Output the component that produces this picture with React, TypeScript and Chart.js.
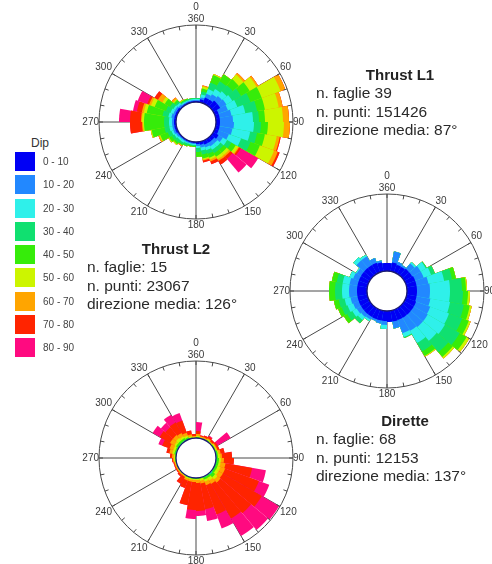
import React, { useEffect, useRef } from 'react';
import { Chart, registerables } from 'chart.js';

Chart.register(...registerables);

// 10° direction bins (clockwise from north)
const BINS = [
  '0-10', '10-20', '20-30', '30-40', '40-50', '50-60', '60-70', '70-80', '80-90',
  '90-100', '100-110', '110-120', '120-130', '130-140', '140-150', '150-160', '160-170', '170-180',
  '180-190', '190-200', '200-210', '210-220', '220-230', '230-240', '240-250', '250-260', '260-270',
  '270-280', '280-290', '290-300', '300-310', '310-320', '320-330', '330-340', '340-350', '350-360',
];

const SPOKE_LABELS: (string | string[])[] = [
  ['0', '360'], '30', '60', '90', '120', '150', '180', '210', '240', '270', '300', '330',
];

const DIP_CLASSES = ['0 - 10', '10 - 20', '20 - 30', '30 - 40', '40 - 50', '50 - 60', '60 - 70', '70 - 80', '80 - 90'];
const DIP_COLORS = ['#0000f5', '#2288ff', '#2ff0ea', '#10e070', '#36ec0a', '#ccf500', '#ffa500', '#ff2400', '#ff0a80'];

// radial value range: 0 sits on the central hole
const R_MIN = -20;
const R_MAX = 77;

// ---- Thrust L1 (frequency per dip class, per direction bin)
const L1_0_10 = [1, 3, 6, 6, 8, 8, 4, 4, 4, 4, 4, 4, 6, 4, 4, 4, 3, 2, 1, 1, 1, 1, 1, 1, 2, 2, 2, 2, 2, 2, 2, 1, 1, 1, 1, 1];
const L1_10_20 = [1, 2, 4, 6, 6, 7, 10, 12, 13, 14, 13, 11, 5, 4, 4, 3, 3, 2, 1, 1, 1, 1, 1, 2, 2, 2, 2, 2, 3, 2, 2, 2, 1, 1, 1, 1];
const L1_20_30 = [1, 3, 5, 6, 6, 7, 10, 14, 20, 20, 18, 13, 5, 4, 4, 3, 3, 2, 1, 1, 1, 2, 2, 2, 2, 3, 3, 3, 3, 3, 2, 2, 1, 1, 1, 1];
const L1_30_40 = [1, 3, 7, 9, 8, 10, 14, 12, 6, 7, 7, 10, 5, 4, 4, 4, 4, 4, 1, 1, 2, 2, 3, 3, 4, 5, 5, 5, 6, 5, 4, 2, 1, 1, 1, 1];
const L1_40_50 = [0, 3, 8, 8, 8, 10, 12, 8, 6, 7, 8, 10, 5, 4, 4, 4, 4, 5, 1, 1, 1, 1, 2, 3, 8, 13, 20, 20, 16, 12, 6, 2, 1, 1, 0, 0];
const L1_50_60 = [0, 2, 1, 0, 6, 8, 20, 14, 18, 16, 12, 15, 3, 3, 3, 2, 1, 0, 0, 0, 0, 0, 1, 1, 1, 1, 1, 2, 3, 4, 3, 1, 1, 0, 0, 0];
const L1_60_70 = [0, 1, 0, 0, 2, 2, 5, 4, 6, 6, 3, 4, 1, 2, 2, 2, 1, 0, 0, 0, 0, 1, 0, 0, 1, 0, 1, 1, 2, 2, 5, 2, 0, 0, 0, 0];
const L1_70_80 = [0, 0, 0, 0, 0, 0, 0, 0, 0, 0, 1, 2, 2, 3, 4, 3, 2, 0, 0, 0, 0, 0, 0, 0, 0, 0, 12, 11, 5, 2, 4, 0, 0, 0, 0, 0];
const L1_80_90 = [0, 0, 0, 0, 0, 0, 0, 0, 0, 0, 0, 0, 20, 18, 0, 0, 0, 0, 0, 0, 0, 0, 0, 0, 0, 0, 0, 11, 4, 10, 0, 0, 0, 0, 0, 0];

// ---- Thrust L2
const L2_0_10 = [8, 9, 8, 8, 9, 9, 10, 10, 10, 10, 10, 11, 11, 11, 11, 11, 11, 11, 10, 10, 10, 10, 10, 10, 10, 10, 10, 10, 10, 10, 10, 10, 10, 10, 9, 8];
const L2_10_20 = [0, 11, 3, 2, 7, 10, 9, 12, 13, 13, 14, 15, 16, 16, 15, 14, 7, 0, 4, 3, 2, 3, 4, 5, 6, 7, 8, 8, 8, 6, 5, 10, 10, 5, 2, 0];
const L2_20_30 = [0, 0, 0, 0, 2, 6, 8, 16, 20, 20, 20, 20, 20, 18, 14, 4, 0, 0, 4, 0, 0, 2, 4, 5, 6, 6, 7, 7, 7, 4, 1, 4, 2, 0, 0, 0];
const L2_30_40 = [0, 0, 0, 0, 0, 1, 4, 8, 12, 13, 14, 14, 17, 15, 10, 1, 0, 0, 0, 0, 0, 0, 4, 6, 6, 6, 7, 7, 6, 0, 0, 0, 0, 0, 0, 0];
const L2_40_50 = [0, 0, 0, 0, 0, 0, 0, 4, 4, 5, 6, 7, 8, 6, 5, 0, 0, 0, 0, 0, 0, 0, 0, 4, 4, 5, 6, 6, 5, 0, 0, 0, 0, 0, 0, 0];
const L2_50_60 = [0, 0, 0, 0, 0, 0, 0, 0, 1, 2, 2, 2, 3, 2, 1, 0, 0, 0, 0, 0, 0, 0, 0, 0, 0, 0, 0, 0, 0, 0, 0, 0, 0, 0, 0, 0];
const L2_60_70 = [0, 0, 0, 0, 0, 0, 0, 0, 0, 0, 0, 0, 0, 0, 0, 0, 0, 0, 0, 0, 0, 0, 0, 0, 0, 0, 0, 0, 0, 0, 0, 0, 0, 0, 0, 0];
const L2_70_80 = [0, 0, 0, 0, 0, 0, 0, 0, 0, 0, 0, 0, 0, 0, 0, 0, 0, 0, 0, 0, 0, 0, 0, 0, 0, 0, 0, 0, 0, 0, 0, 0, 0, 0, 0, 0];
const L2_80_90 = [0, 0, 0, 0, 0, 0, 0, 0, 0, 0, 0, 0, 0, 0, 0, 0, 0, 0, 0, 0, 0, 0, 0, 0, 0, 0, 0, 0, 0, 0, 0, 0, 0, 0, 0, 0];

// ---- Dirette
const D_0_10 = [0, 0, 0, 0, 0, 0, 0, 0, 0, 0, 0, 0, 0, 0, 0, 0, 0, 0, 0, 0, 0, 0, 0, 0, 0, 0, 0, 0, 0, 0, 0, 0, 0, 0, 0, 0];
const D_10_20 = [0, 0, 0, 0, 0, 0, 0, 0, 0, 0, 0, 0, 0, 0, 0, 0, 0, 0, 0, 0, 0, 0, 0, 0, 0, 0, 0, 0, 0, 0, 0, 0, 0, 0, 0, 0];
const D_20_30 = [0, 0, 0, 0, 0, 0, 0, 0, 0, 0, 0, 0, 0, 1, 0, 0, 0, 0, 0, 0, 0, 0, 0, 0, 0, 0, 0, 0, 0, 0, 0, 0, 0, 0, 0, 0];
const D_30_40 = [0, 0, 0, 0, 0, 0, 0, 1, 1, 1, 1, 1, 1, 1, 1, 1, 0, 0, 0, 0, 0, 0, 0, 0, 0, 0, 0, 0, 1, 1, 1, 1, 1, 1, 0, 0];
const D_40_50 = [1, 0, 0, 1, 0, 1, 1, 1, 1, 2, 2, 2, 2, 3, 2, 2, 1, 1, 1, 1, 1, 0, 0, 0, 0, 0, 1, 1, 1, 1, 2, 2, 2, 1, 1, 0];
const D_50_60 = [1, 1, 1, 1, 1, 1, 1, 1, 2, 2, 2, 3, 3, 3, 3, 2, 2, 1, 1, 1, 1, 1, 1, 1, 1, 1, 1, 1, 2, 2, 2, 3, 2, 2, 1, 1];
const D_60_70 = [2, 1, 1, 1, 1, 1, 1, 2, 2, 3, 5, 5, 5, 4, 4, 4, 3, 3, 2, 2, 2, 1, 1, 1, 1, 1, 1, 2, 3, 4, 5, 4, 4, 3, 2, 1];
const D_70_80 = [3, 1, 2, 2, 2, 2, 2, 4, 10, 10, 27, 36, 45, 40, 40, 31, 26, 28, 28, 24, 8, 8, 2, 1, 1, 1, 1, 2, 3, 8, 12, 10, 12, 13, 4, 2];
const D_80_90 = [9, 0, 0, 1, 0, 15, 0, 0, 0, 0, 14, 11, 20, 22, 20, 15, 12, 5, 9, 0, 0, 0, 0, 0, 0, 0, 0, 0, 0, 4, 8, 6, 9, 8, 0, 0];

const L1_SERIES = [L1_0_10, L1_10_20, L1_20_30, L1_30_40, L1_40_50, L1_50_60, L1_60_70, L1_70_80, L1_80_90];
const L2_SERIES = [L2_0_10, L2_10_20, L2_20_30, L2_30_40, L2_40_50, L2_50_60, L2_60_70, L2_70_80, L2_80_90];
const D_SERIES = [D_0_10, D_10_20, D_20_30, D_30_40, D_40_50, D_50_60, D_60_70, D_70_80, D_80_90];

const FONT = '"Liberation Sans", Arial, sans-serif';

const rosePlugin = {
  id: 'roseHole',
  afterDraw(chart: any) {
    const s = chart.scales.r;
    const ctx = chart.ctx;
    const cx = s.xCenter;
    const cy = s.yCenter;
    const R = s.drawingArea;
    const rh = s.getDistanceFromCenterForValue(0);
    ctx.save();
    ctx.strokeStyle = '#4a4a4a';
    ctx.lineWidth = 1;
    for (let i = 0; i < BINS.length; i++) {
      const a = s.getIndexAngle(i) - Math.PI / 2;
      ctx.beginPath();
      ctx.moveTo(cx + Math.cos(a) * (R - 4), cy + Math.sin(a) * (R - 4));
      ctx.lineTo(cx + Math.cos(a) * R, cy + Math.sin(a) * R);
      ctx.stroke();
    }
    ctx.beginPath();
    ctx.arc(cx, cy, rh, 0, Math.PI * 2);
    ctx.fillStyle = '#ffffff';
    ctx.fill();
    ctx.strokeStyle = '#1c1c70';
    ctx.lineWidth = 1.3;
    ctx.stroke();
    ctx.restore();
  },
};

function RoseChart({ series, left, top }: { series: number[][]; left: number; top: number }) {
  const ref = useRef<HTMLCanvasElement | null>(null);
  useEffect(() => {
    let run = BINS.map(() => 0);
    const datasets = series.map((arr, k) => {
      run = run.map((v, i) => v + arr[i]);
      return {
        label: DIP_CLASSES[k],
        data: run.slice(),
        backgroundColor: DIP_COLORS[k],
        borderWidth: 0,
      };
    });
    const chart = new Chart(ref.current as HTMLCanvasElement, {
      type: 'polarArea',
      data: { labels: BINS, datasets },
      options: {
        responsive: false,
        animation: false,
        layout: { padding: 0 },
        plugins: { legend: { display: false }, tooltip: { enabled: false } },
        scales: {
          r: {
            min: R_MIN,
            max: R_MAX,
            startAngle: 0,
            ticks: { display: false, stepSize: R_MAX - R_MIN, z: 1 },
            grid: {
              circular: true,
              lineWidth: 1,
              color: (c: any) => (c.tick && Math.abs(c.tick.value - R_MAX) < 1e-6 ? '#4a4a4a' : 'rgba(0,0,0,0)'),
            },
            angleLines: {
              display: true,
              color: '#4a4a4a',
              lineWidth: (c: any) => (c.index % 3 === 0 ? 1 : 0),
            },
            pointLabels: {
              display: true,
              padding: 0,
              color: '#3a3a3a',
              font: { family: FONT, size: 10 },
              callback: (_l: string, i: number) => (i % 3 === 0 ? SPOKE_LABELS[i / 3] : ''),
            },
          },
        } as any,
      },
      plugins: [rosePlugin],
    } as any);
    return () => chart.destroy();
  }, [series]);
  return (
    <canvas
      ref={ref}
      width={242}
      height={242}
      style={{ position: 'absolute', left, top, width: 242, height: 242 }}
    />
  );
}

function InfoBlock({ title, lines, left, titleCenter, top }: { title: string; lines: string[]; left: number; titleCenter: number; top: number }) {
  return (
    <>
      <div
        style={{
          position: 'absolute', left: titleCenter - 100, top, width: 200, textAlign: 'center',
          fontFamily: FONT, fontWeight: 'bold', fontSize: 15, lineHeight: '18px', color: '#222',
        }}
      >
        {title}
      </div>
      <div
        style={{
          position: 'absolute', left, top: top + 18, whiteSpace: 'nowrap',
          fontFamily: FONT, fontSize: 15.5, lineHeight: '18.5px', color: '#2a2a2a',
        }}
      >
        {lines.map((l) => (
          <div key={l}>{l}</div>
        ))}
      </div>
    </>
  );
}

export default function App() {
  return (
    <div
      style={{
        position: 'absolute', left: 0, top: 0, width: 492, height: 564,
        overflow: 'hidden', background: '#ffffff',
      }}
    >
      <RoseChart series={L1_SERIES} left={73} top={-5} />
      <RoseChart series={L2_SERIES} left={264} top={164} />
      <RoseChart series={D_SERIES} left={73} top={331} />

      <div style={{ position: 'absolute', left: 31, top: 136, fontFamily: FONT, fontSize: 12, color: '#333' }}>Dip</div>
      {DIP_CLASSES.map((c, i) => (
        <div key={c}>
          <div
            style={{
              position: 'absolute', left: 15, top: 152 + i * 23.25, width: 20, height: 19,
              background: DIP_COLORS[i],
            }}
          />
          <div
            style={{
              position: 'absolute', left: 43, top: 152 + i * 23.25, height: 19, lineHeight: '19px',
              fontFamily: FONT, fontSize: 10, color: '#444', whiteSpace: 'nowrap',
            }}
          >
            {c}
          </div>
        </div>
      ))}

      <InfoBlock
        title="Thrust L1"
        lines={['n. faglie 39', 'n. punti: 151426', 'direzione media: 87°']}
        left={316}
        titleCenter={400}
        top={66}
      />
      <InfoBlock
        title="Thrust L2"
        lines={['n. faglie: 15', 'n. punti: 23067', 'direzione media: 126°']}
        left={87}
        titleCenter={176}
        top={240}
      />
      <InfoBlock
        title="Dirette"
        lines={['n. faglie: 68', 'n. punti: 12153', 'direzione media: 137°']}
        left={316}
        titleCenter={405}
        top={412}
      />
    </div>
  );
}
